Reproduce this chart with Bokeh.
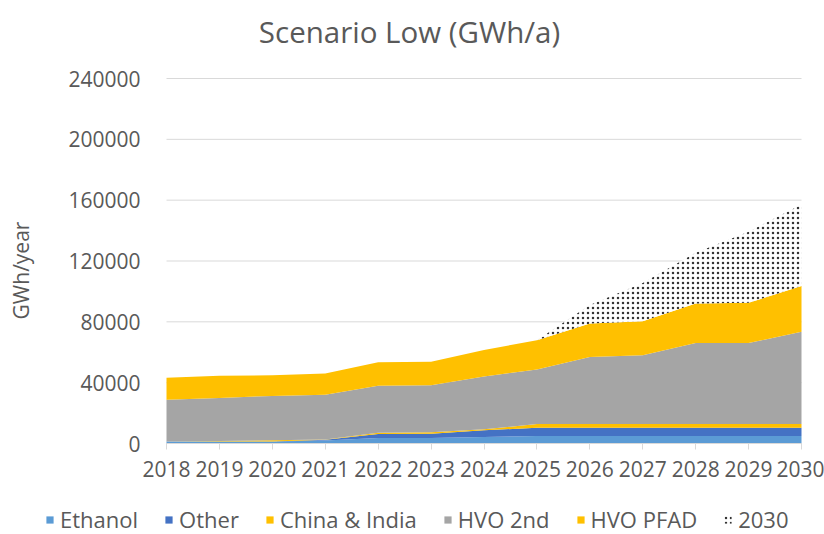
import math
from bokeh.plotting import figure
from bokeh.models import (ColumnDataSource, Range1d, FixedTicker, Legend, LegendItem,
                          NumeralTickFormatter, LinearAxis, Label)
from bokeh.transform import stack
from bokeh.embed import file_html
from bokeh.resources import INLINE

years = [2018, 2019, 2020, 2021, 2022, 2023, 2024, 2025, 2026, 2027, 2028, 2029, 2030]
ethanol = [1300, 1300, 1300, 2000, 3600, 3600, 4200, 5000, 5000, 5000, 5000, 5000, 5000]
other = [0, 0, 0, 400, 2600, 2800, 4500, 5300, 5300, 5300, 5300, 5300, 5300]
china_india = [0, 300, 800, 200, 900, 1000, 600, 2500, 2500, 2500, 2500, 2500, 2500]
hvo_2nd = [27400, 28400, 29200, 29400, 30800, 30900, 34700, 35900, 44050, 45200, 53300, 53300, 60600]
hvo_pfad = [14500, 14500, 13600, 14100, 15600, 15500, 17500, 19200, 22050, 22400, 26000, 26400, 30200]
extra_2030 = [0, 0, 0, 0, 0, 0, 0, 0, 12100, 25200, 33300, 46800, 53500]

series_names = ["Ethanol", "Other", "China & India", "HVO 2nd", "HVO PFAD", "2030"]
y_ticks = [0, 40000, 80000, 120000, 160000, 200000, 240000]
title_text = "Scenario Low (GWh/a)"
y_title = "GWh/year"

keys = ["ethanol", "other", "china_india", "hvo_2nd", "hvo_pfad", "extra_2030"]
source = ColumnDataSource(dict(year=years, ethanol=ethanol, other=other, china_india=china_india,
                               hvo_2nd=hvo_2nd, hvo_pfad=hvo_pfad, extra_2030=extra_2030))
colors = ["#5B9BD5", "#4472C4", "#FFC000", "#A5A5A5", "#FFC000"]

FONT = "Open Sans"
TXT = "#595959"
GRID = "#D9D9D9"

# layout (pixels in the canvas): where the data area sits
W, H = 824, 534
LEFT, RIGHT, TOP, BOTTOM = 166, 801, 78, 443
xpp = (years[-1] - years[0]) / (RIGHT - LEFT)
ypp = (y_ticks[-1] - y_ticks[0]) / (BOTTOM - TOP)
x_range = Range1d(years[0] - LEFT * xpp, years[-1] + (W - RIGHT) * xpp)
y_range = Range1d(y_ticks[0] - (H - BOTTOM) * ypp, y_ticks[-1] + TOP * ypp)

p = figure(frame_width=W, frame_height=H, x_range=x_range, y_range=y_range,
           output_backend="svg", toolbar_location=None, min_border=0,
           x_axis_location=None, y_axis_location=None)
p.outline_line_color = None
p.background_fill_color = "white"
p.border_fill_color = "white"
p.grid.visible = False

# horizontal gridlines over the data span
p.segment(x0=years[0], x1=years[-1], y0=y_ticks, y1=y_ticks, line_color=GRID, line_width=1)

renderers = []
for i in range(5):
    r = p.varea(x="year", y1=stack(*keys[:i]), y2=stack(*keys[:i + 1]), source=source,
                fill_color=colors[i])
    renderers.append(r)
r = p.varea(x="year", y1=stack(*keys[:5]), y2=stack(*keys[:6]), source=source,
            fill_color="white", fill_alpha=1.0, hatch_pattern="dot", hatch_color="#333333",
            hatch_scale=5, hatch_weight=1)
renderers.append(r)

xaxis = LinearAxis(fixed_location=0, bounds=(years[0], years[-1]),
                   ticker=FixedTicker(ticks=years))
xaxis.axis_line_color = GRID
xaxis.major_tick_line_color = GRID
xaxis.major_tick_out = 6
xaxis.major_tick_in = 0
xaxis.minor_tick_line_color = None
xaxis.major_label_standoff = 11
xaxis.major_label_text_font = FONT
xaxis.major_label_text_font_size = "21px"
xaxis.major_label_text_color = TXT
p.add_layout(xaxis, "below")

yaxis = LinearAxis(fixed_location=years[0], bounds=(y_ticks[0], y_ticks[-1]),
                   ticker=FixedTicker(ticks=y_ticks), formatter=NumeralTickFormatter(format="0"))
yaxis.axis_line_color = None
yaxis.major_tick_line_color = None
yaxis.minor_tick_line_color = None
yaxis.major_label_standoff = 20
yaxis.major_label_text_font = FONT
yaxis.major_label_text_font_size = "21px"
yaxis.major_label_text_color = TXT
p.add_layout(yaxis, "left")

p.add_layout(Label(x=409, y=H - 31, x_units="screen", y_units="screen", text=title_text,
                   text_font=FONT, text_font_size="29.5px", text_color=TXT,
                   text_align="center", text_baseline="middle"))
p.add_layout(Label(x=20, y=H - 270, x_units="screen", y_units="screen", text=y_title,
                   angle=math.pi / 2, text_font=FONT, text_font_size="21px", text_color=TXT,
                   text_align="center", text_baseline="middle"))

legend = Legend(items=[LegendItem(label=n, renderers=[r]) for n, r in zip(series_names, renderers)],
                orientation="horizontal", location=(45, 0))
legend.label_text_font = FONT
legend.label_text_font_size = "22px"
legend.label_text_color = TXT
legend.glyph_width = 9
legend.glyph_height = 9
legend.label_standoff = 6
legend.spacing = 26
legend.padding = 0
legend.margin = 0
legend.border_line_color = None
legend.background_fill_alpha = 0
p.add_layout(legend, "center")

open("out.html", "w").write(file_html(p, INLINE))
